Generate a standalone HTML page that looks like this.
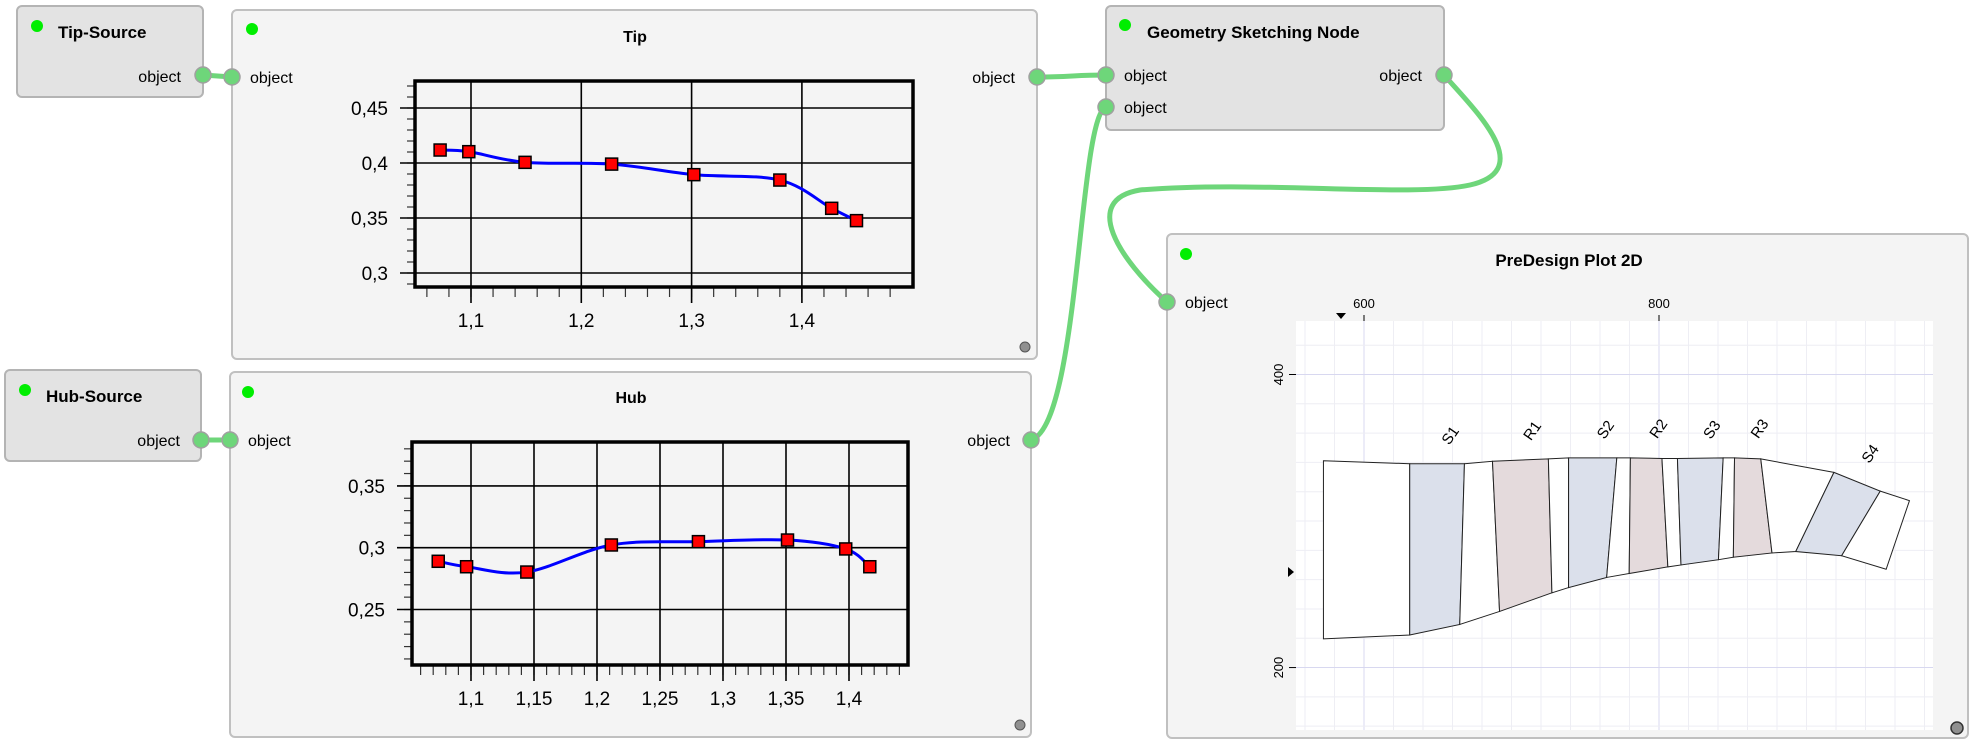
<!DOCTYPE html>
<html><head><meta charset="utf-8"><style>
html,body{margin:0;padding:0;background:#fff;}
svg{display:block;font-family:"Liberation Sans",sans-serif;}
</style></head><body>
<svg id="root" width="1978" height="754" viewBox="0 0 1978 754" xmlns="http://www.w3.org/2000/svg">
<!-- wires -->
<g fill="none" stroke="#6ed67a" stroke-width="5">
<path d="M203,75 L232,77"/>
<path d="M201,440 L230,440"/>
<path d="M1037,77 C1070,77 1075,75 1106,75"/>
<path d="M1031,440 C1080,425 1078,118 1106,107"/>
<path d="M1444,75 C1480,115 1535,170 1470,185 C1410,198 1260,180 1140,190 C1080,200 1120,260 1167,302"/>
</g>
<!-- Tip-Source -->
<g>
<rect x="17" y="6" width="186" height="91" rx="5" fill="#e3e3e3" stroke="#b4b4b4" stroke-width="2"/>
<circle cx="37" cy="26" r="6" fill="#00ee00"/>
<text x="58" y="38" font-size="17" font-weight="bold">Tip-Source</text>
<text x="181" y="82" font-size="16" text-anchor="end">object</text>
<circle cx="203" cy="75" r="8" fill="#6ed67a" stroke="#a0a0a0" stroke-width="1.5"/>
</g>
<!-- Hub-Source -->
<g>
<rect x="5" y="370" width="196" height="91" rx="5" fill="#e3e3e3" stroke="#b4b4b4" stroke-width="2"/>
<circle cx="25" cy="390" r="6" fill="#00ee00"/>
<text x="46" y="402" font-size="17" font-weight="bold">Hub-Source</text>
<text x="180" y="446" font-size="16" text-anchor="end">object</text>
<circle cx="201" cy="440" r="8" fill="#6ed67a" stroke="#a0a0a0" stroke-width="1.5"/>
</g>
<!-- Tip node -->
<g>
<rect x="232" y="10" width="805" height="349" rx="5" fill="#f4f4f4" stroke="#c0c0c0" stroke-width="2"/>
<circle cx="252" cy="29" r="6" fill="#00ee00"/>
<text x="635" y="42" font-size="16" font-weight="bold" text-anchor="middle">Tip</text>
<text x="250" y="83" font-size="16">object</text>
<text x="1015" y="83" font-size="16" text-anchor="end">object</text>
<circle cx="232" cy="77" r="8" fill="#6ed67a" stroke="#a0a0a0" stroke-width="1.5"/>
<circle cx="1037" cy="77" r="8" fill="#6ed67a" stroke="#a0a0a0" stroke-width="1.5"/>
<circle cx="1025" cy="347" r="5" fill="#909090" stroke="#555"/>
<g id="tipChart"></g>
</g>
<!-- Hub node -->
<g>
<rect x="230" y="372" width="801" height="365" rx="5" fill="#f4f4f4" stroke="#c0c0c0" stroke-width="2"/>
<circle cx="248" cy="392" r="6" fill="#00ee00"/>
<text x="631" y="403" font-size="16" font-weight="bold" text-anchor="middle">Hub</text>
<text x="248" y="446" font-size="16">object</text>
<text x="1010" y="446" font-size="16" text-anchor="end">object</text>
<circle cx="230" cy="440" r="8" fill="#6ed67a" stroke="#a0a0a0" stroke-width="1.5"/>
<circle cx="1031" cy="440" r="8" fill="#6ed67a" stroke="#a0a0a0" stroke-width="1.5"/>
<circle cx="1020" cy="725" r="5" fill="#909090" stroke="#555"/>
<g id="hubChart"></g>
</g>
<!-- Geometry node -->
<g>
<rect x="1106" y="6" width="338" height="124" rx="5" fill="#e3e3e3" stroke="#b4b4b4" stroke-width="2"/>
<circle cx="1125" cy="25" r="6" fill="#00ee00"/>
<text x="1147" y="38" font-size="17" font-weight="bold">Geometry Sketching Node</text>
<text x="1124" y="81" font-size="16">object</text>
<text x="1124" y="113" font-size="16">object</text>
<text x="1422" y="81" font-size="16" text-anchor="end">object</text>
<circle cx="1106" cy="75" r="8" fill="#6ed67a" stroke="#a0a0a0" stroke-width="1.5"/>
<circle cx="1106" cy="107" r="8" fill="#6ed67a" stroke="#a0a0a0" stroke-width="1.5"/>
<circle cx="1444" cy="75" r="8" fill="#6ed67a" stroke="#a0a0a0" stroke-width="1.5"/>
</g>
<!-- PreDesign node -->
<g>
<rect x="1167" y="234" width="801" height="504" rx="5" fill="#f4f4f4" stroke="#c0c0c0" stroke-width="2"/>
<circle cx="1186" cy="254" r="6" fill="#00ee00"/>
<text x="1569" y="266" font-size="17" font-weight="bold" text-anchor="middle">PreDesign Plot 2D</text>
<text x="1185" y="308" font-size="16">object</text>
<circle cx="1167" cy="302" r="8" fill="#6ed67a" stroke="#a0a0a0" stroke-width="1.5"/>
<rect x="1296" y="321" width="637" height="409" fill="#fff"/>
<g id="geoChart"></g>
<circle cx="1957" cy="728" r="6" fill="#909090" stroke="#333" stroke-width="1.5"/>
</g>
</svg>
<script>
// ---- Tip chart data ----
const tipX = [1.072, 1.098, 1.149, 1.2275, 1.302, 1.380, 1.427, 1.4495];
const tipY = [0.4118, 0.4103, 0.4006, 0.399, 0.3894, 0.3845, 0.3588, 0.3476];
const tipXTicks = [1.1, 1.2, 1.3, 1.4];
const tipXTickLabels = ["1,1", "1,2", "1,3", "1,4"];
const tipYTicks = [0.3, 0.35, 0.4, 0.45];
const tipYTickLabels = ["0,3", "0,35", "0,4", "0,45"];
// ---- Hub chart data ----
const hubX = [1.074, 1.0965, 1.1443, 1.2114, 1.2805, 1.3512, 1.3974, 1.4165];
const hubY = [0.289, 0.2846, 0.2803, 0.3022, 0.3049, 0.3062, 0.299, 0.2846];
const hubXTicks = [1.1, 1.15, 1.2, 1.25, 1.3, 1.35, 1.4];
const hubXTickLabels = ["1,1", "1,15", "1,2", "1,25", "1,3", "1,35", "1,4"];
const hubYTicks = [0.25, 0.3, 0.35];
const hubYTickLabels = ["0,25", "0,3", "0,35"];
// ---- Geometry (meridional) data ----
const shroudX = [572.5, 631.0, 668.1, 687.1, 725.0, 738.7, 771.4, 780.6, 802.0, 812.5, 843.5, 851.2, 869.0, 918.6, 950.0, 969.8];
const shroudY = [341.1, 339.1, 339.1, 340.8, 342.4, 343.1, 343.1, 343.1, 342.7, 342.7, 343.1, 343.1, 342.4, 333.2, 320.4, 313.9];
const hubLineX = [572.5, 631.0, 664.9, 691.9, 727.4, 738.7, 764.5, 779.8, 806.0, 814.9, 840.3, 850.4, 876.6, 892.7, 923.8, 954.0];
const hubLineY = [219.6, 222.2, 229.4, 238.3, 251.0, 254.6, 261.5, 264.2, 268.7, 270.0, 273.6, 275.3, 278.2, 279.2, 276.3, 267.1];
const regionKind = ["gap", "stator", "gap", "rotor", "gap", "stator", "gap", "rotor", "gap", "stator", "gap", "rotor", "gap", "stator", "gap"];
const rowNames = ["S1", "R1", "S2", "R2", "S3", "R3", "S4"];
const rowLabelX = [661.3, 716.9, 766.5, 802.4, 838.7, 871.0, 946.0];
const rowLabelY = [356.5, 359.7, 360.4, 361.1, 360.4, 361.1, 344.0];
const geoXTicks = [600, 800];
const geoYTicks = [200, 400];

const NS = "http://www.w3.org/2000/svg";
function mk(tag, attrs, parent) {
  const e = document.createElementNS(NS, tag);
  for (const k in attrs) e.setAttribute(k, attrs[k]);
  parent.appendChild(e);
  return e;
}
function catmull(pts) {
  let d = "M" + pts[0][0] + "," + pts[0][1];
  for (let i = 0; i < pts.length - 1; i++) {
    const p0 = pts[Math.max(0, i - 1)], p1 = pts[i], p2 = pts[i + 1], p3 = pts[Math.min(pts.length - 1, i + 2)];
    const c1 = [p1[0] + (p2[0] - p0[0]) / 6, p1[1] + (p2[1] - p0[1]) / 6];
    const c2 = [p2[0] - (p3[0] - p1[0]) / 6, p2[1] - (p3[1] - p1[1]) / 6];
    d += " C" + c1 + " " + c2 + " " + p2;
  }
  return d;
}
function lineChart(g, cfg) {
  const {L, R, T, B, xs, ys, xv, yv, xt, xtl, yt, ytl, xMinor, yMinor, name} = cfg;
  xMinor.forEach(v => {
    const t = mk("line", {x1: xs(v), x2: xs(v), y1: B, y2: B + 10, stroke: "#333", "stroke-width": 1.2}, g);
    
    
  });
  yMinor.forEach(v => {
    const t = mk("line", {x1: L - 8, x2: L, y1: ys(v), y2: ys(v), stroke: "#333", "stroke-width": 1.2}, g);
    
    
  });
  xt.forEach((v, i) => {
    const gl = mk("line", {x1: xs(v), x2: xs(v), y1: T, y2: B + 16, stroke: "#000", "stroke-width": 1.6}, g);
    
    
    const tx = mk("text", {x: xs(v), y: B + 40, "font-size": 19, "text-anchor": "middle"}, g);
    tx.textContent = xtl[i];
    
    
  });
  yt.forEach((v, i) => {
    const gl = mk("line", {x1: L - 15, x2: R, y1: ys(v), y2: ys(v), stroke: "#000", "stroke-width": 1.6}, g);
    
    
    const tx = mk("text", {x: L - 27, y: ys(v) + 7, "font-size": 19, "text-anchor": "end"}, g);
    tx.textContent = ytl[i];
    
    
  });
  const fr = mk("rect", {x: L, y: T, width: R - L, height: B - T, fill: "none", stroke: "#000", "stroke-width": 3.5}, g);
  
  
  const pts = xv.map((v, i) => [xs(v), ys(yv[i])]);
  const ln = mk("path", {d: catmull(pts), fill: "none", stroke: "#0000ff", "stroke-width": 3}, g);
  
  
  pts.forEach(p => {
    const m = mk("rect", {x: p[0] - 6, y: p[1] - 6, width: 12, height: 12, fill: "#ff0000", stroke: "#000", "stroke-width": 1.5}, g);
    
    
  });
}
function range(a, b, s) { const r = []; for (let v = a; v <= b + 1e-9; v += s) r.push(+v.toFixed(4)); return r; }

lineChart(document.getElementById("tipChart"), {
  L: 415, R: 913, T: 81, B: 287,
  xs: v => 471 + (v - 1.1) * 1103, ys: v => 163 - (v - 0.4) * 1100,
  xv: tipX, yv: tipY, xt: tipXTicks, xtl: tipXTickLabels, yt: tipYTicks, ytl: tipYTickLabels,
  xMinor: range(1.06, 1.48, 0.02), yMinor: range(0.29, 0.47, 0.01), name: "tip"
});
lineChart(document.getElementById("hubChart"), {
  L: 412, R: 908, T: 442, B: 665,
  xs: v => 471 + (v - 1.1) * 1260, ys: v => 547.7 - (v - 0.3) * 1236,
  xv: hubX, yv: hubY, xt: hubXTicks, xtl: hubXTickLabels, yt: hubYTicks, ytl: hubYTickLabels,
  xMinor: range(1.06, 1.44, 0.01), yMinor: range(0.21, 0.38, 0.01), name: "hub"
});

(function () {
  const g = document.getElementById("geoChart");
  const gx = v => 1364 + (v - 600) * 1.475;
  const gy = v => 374.5 + (400 - v) * 1.4653;
  range(560, 980, 20).forEach(v => {
    const l = mk("line", {x1: gx(v), x2: gx(v), y1: 321, y2: 730, stroke: geoXTicks.includes(v) ? "#d8d8f0" : "#eeeef4", "stroke-width": 1}, g);
    
    
  });
  range(160, 420, 20).forEach(v => {
    const l = mk("line", {x1: 1296, x2: 1933, y1: gy(v), y2: gy(v), stroke: geoYTicks.includes(v) ? "#d8d8f0" : "#eeeef4", "stroke-width": 1}, g);
    
    
  });
  geoXTicks.forEach(v => {
    const t = mk("line", {x1: gx(v), x2: gx(v), y1: 315, y2: 321, stroke: "#000"}, g);
    
    
    const tx = mk("text", {x: gx(v), y: 308, "font-size": 13, "text-anchor": "middle"}, g);
    tx.textContent = String(v);
    
    
  });
  geoYTicks.forEach(v => {
    const t = mk("line", {x1: 1289, x2: 1296, y1: gy(v), y2: gy(v), stroke: "#000"}, g);
    
    
    const tx = mk("text", {x: 1283, y: gy(v), "font-size": 13, "text-anchor": "middle", transform: "rotate(-90 1283 " + gy(v) + ")"}, g);
    tx.textContent = String(v);
    
    
  });
  const m1 = mk("path", {d: "M1336,313 L1346,313 L1341,319 Z", fill: "#000"}, g);
  
  
  const m2 = mk("path", {d: "M1288,567 L1294,572 L1288,577 Z", fill: "#000"}, g);
  
  
  const fills = {gap: "#ffffff", stator: "#dbe0eb", rotor: "#e4dadc"};
  regionKind.forEach((k, i) => {
    const pts = [[gx(shroudX[i]), gy(shroudY[i])], [gx(shroudX[i + 1]), gy(shroudY[i + 1])],
                 [gx(hubLineX[i + 1]), gy(hubLineY[i + 1])], [gx(hubLineX[i]), gy(hubLineY[i])]];
    const p = mk("polygon", {points: pts.map(q => q.join(",")).join(" "), fill: fills[k], stroke: "#222", "stroke-width": 1}, g);
    
    
  });
  rowNames.forEach((n, i) => {
    const x = gx(rowLabelX[i]), y = gy(rowLabelY[i]);
    const t = mk("text", {x: x, y: y, "font-size": 15, "text-anchor": "middle", transform: "rotate(-55 " + x + " " + y + ")"}, g);
    t.textContent = n;
    
    
  });
})();
</script>
</body></html>
